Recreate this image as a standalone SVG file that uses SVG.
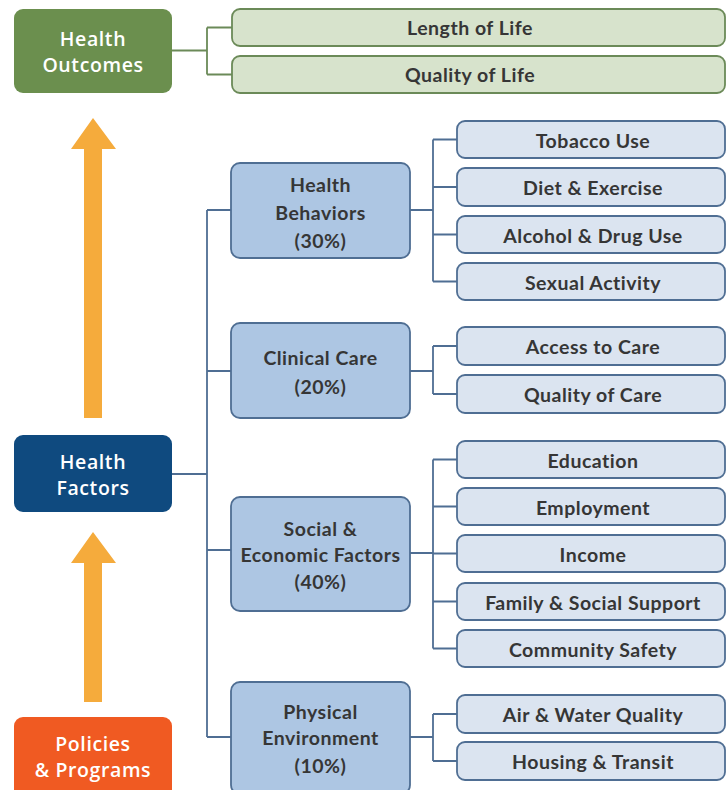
<svg xmlns="http://www.w3.org/2000/svg" width="726" height="790" viewBox="0 0 726 790">
<style>
.top{font-family:"Open Sans","Noto Sans",sans-serif;font-weight:600;font-size:19.5px;letter-spacing:0.6px;fill:#ffffff;text-anchor:middle}
.mid{font-family:Lato,"Liberation Sans",sans-serif;font-weight:700;font-size:19.5px;letter-spacing:0.5px;fill:#363636;text-anchor:middle}
.leafb rect{fill:#dbe4f0;stroke:#4f6e93;stroke-width:1.8}
.leafg rect{fill:#d7e3cc;stroke:#6b8a58;stroke-width:1.8}
.leaf text{font-family:Lato,"Liberation Sans",sans-serif;font-weight:700;font-size:19.5px;letter-spacing:0.5px;fill:#363636;text-anchor:middle}
.midbox{fill:#adc6e3;stroke:#4f6e93;stroke-width:1.8}
.cb{fill:none;stroke:#4f6e93;stroke-width:1.8}
.cg{fill:none;stroke:#6b8a58;stroke-width:1.8}
.arrow{fill:#f5ab3c}
</style>
<rect width="726" height="790" fill="#ffffff"/>
<g id="connectors">
<path class="cg" d="M172 50.5H207M207 27.5V74.5M207 27.5H232M207 74.5H232"/>
<path class="cb" d="M172 474H207M207 210V737M207 210H231M207 371H231M207 550H231M207 737H231"/>
<path class="cb" d="M410 210H433M433 139.5V281.5M433 139.5H457M433 187H457M433 234.5H457M433 281.5H457"/>
<path class="cb" d="M410 371H433M433 346V394M433 346H457M433 394H457"/>
<path class="cb" d="M410 553H433M433 459.5V648.5M433 459.5H457M433 506.5H457M433 553.5H457M433 601.5H457M433 648.5H457"/>
<path class="cb" d="M410 737H433M433 714V761M433 714H457M433 761H457"/>
</g>
<g id="arrow-up-1"><polygon class="arrow" points="93,118 116,149 102,149 102,418 84,418 84,149 71,149"/></g>
<g id="arrow-up-2"><polygon class="arrow" points="93,532 116,563 102,563 102,702 84,702 84,563 71,563"/></g>
<g id="health-outcomes">
<rect x="14" y="9" width="158" height="84" rx="9" fill="#6b8f4e"/>
<text class="top" x="93" y="46"><tspan x="93">Health</tspan><tspan x="93" dy="26">Outcomes</tspan></text>
</g>
<g id="health-factors">
<rect x="14" y="435" width="158" height="77" rx="9" fill="#0f4a7f"/>
<text class="top" x="93" y="469"><tspan x="93">Health</tspan><tspan x="93" dy="26">Factors</tspan></text>
</g>
<g id="policies-programs">
<rect x="14" y="717" width="158" height="90" rx="9" fill="#f05a22"/>
<text class="top" x="93" y="751"><tspan x="93">Policies</tspan><tspan x="93" dy="26">&amp; Programs</tspan></text>
</g>
<g id="health-behaviors">
<rect class="midbox" x="231" y="163" width="179" height="95" rx="9"/>
<text class="mid" x="320.5" y="192"><tspan x="320.5">Health</tspan><tspan x="320.5" dy="27.5">Behaviors</tspan><tspan x="320.5" dy="28">(30%)</tspan></text>
</g>
<g id="clinical-care">
<rect class="midbox" x="231" y="323" width="179" height="95" rx="9"/>
<text class="mid" x="320.5" y="365"><tspan x="320.5">Clinical Care</tspan><tspan x="320.5" dy="28.5">(20%)</tspan></text>
</g>
<g id="social-economic">
<rect class="midbox" x="231" y="497" width="179" height="114" rx="9"/>
<text class="mid" x="320.5" y="535.5"><tspan x="320.5">Social &amp;</tspan><tspan x="320.5" dy="26">Economic Factors</tspan><tspan x="320.5" dy="27">(40%)</tspan></text>
</g>
<g id="physical-environment">
<rect class="midbox" x="231" y="682" width="179" height="112" rx="9"/>
<text class="mid" x="320.5" y="719"><tspan x="320.5">Physical</tspan><tspan x="320.5" dy="26">Environment</tspan><tspan x="320.5" dy="28">(10%)</tspan></text>
</g>
<g id="length-of-life" class="leaf leafg"><rect x="232" y="9" width="493" height="37" rx="8"/><text x="470" y="35">Length of Life</text></g>
<g id="quality-of-life" class="leaf leafg"><rect x="232" y="56" width="493" height="37" rx="8"/><text x="470" y="82">Quality of Life</text></g>
<g id="tobacco-use" class="leaf leafb"><rect x="457" y="121" width="268" height="37" rx="8"/><text x="593" y="147.5">Tobacco Use</text></g>
<g id="diet-exercise" class="leaf leafb"><rect x="457" y="168" width="268" height="38" rx="8"/><text x="593" y="195">Diet &amp; Exercise</text></g>
<g id="alcohol-drug" class="leaf leafb"><rect x="457" y="216" width="268" height="37" rx="8"/><text x="593" y="242.5">Alcohol &amp; Drug Use</text></g>
<g id="sexual-activity" class="leaf leafb"><rect x="457" y="263" width="268" height="37" rx="8"/><text x="593" y="289.5">Sexual Activity</text></g>
<g id="access-to-care" class="leaf leafb"><rect x="457" y="327" width="268" height="38" rx="8"/><text x="593" y="354">Access to Care</text></g>
<g id="quality-of-care" class="leaf leafb"><rect x="457" y="375" width="268" height="38" rx="8"/><text x="593" y="402">Quality of Care</text></g>
<g id="education" class="leaf leafb"><rect x="457" y="441" width="268" height="37" rx="8"/><text x="593" y="467.5">Education</text></g>
<g id="employment" class="leaf leafb"><rect x="457" y="488" width="268" height="37" rx="8"/><text x="593" y="514.5">Employment</text></g>
<g id="income" class="leaf leafb"><rect x="457" y="535" width="268" height="37" rx="8"/><text x="593" y="561.5">Income</text></g>
<g id="family-social" class="leaf leafb"><rect x="457" y="583" width="268" height="37" rx="8"/><text x="593" y="609.5">Family &amp; Social Support</text></g>
<g id="community-safety" class="leaf leafb"><rect x="457" y="630" width="268" height="37" rx="8"/><text x="593" y="656.5">Community Safety</text></g>
<g id="air-water" class="leaf leafb"><rect x="457" y="695" width="268" height="38" rx="8"/><text x="593" y="722">Air &amp; Water Quality</text></g>
<g id="housing-transit" class="leaf leafb"><rect x="457" y="742" width="268" height="38" rx="8"/><text x="593" y="769">Housing &amp; Transit</text></g>
</svg>
